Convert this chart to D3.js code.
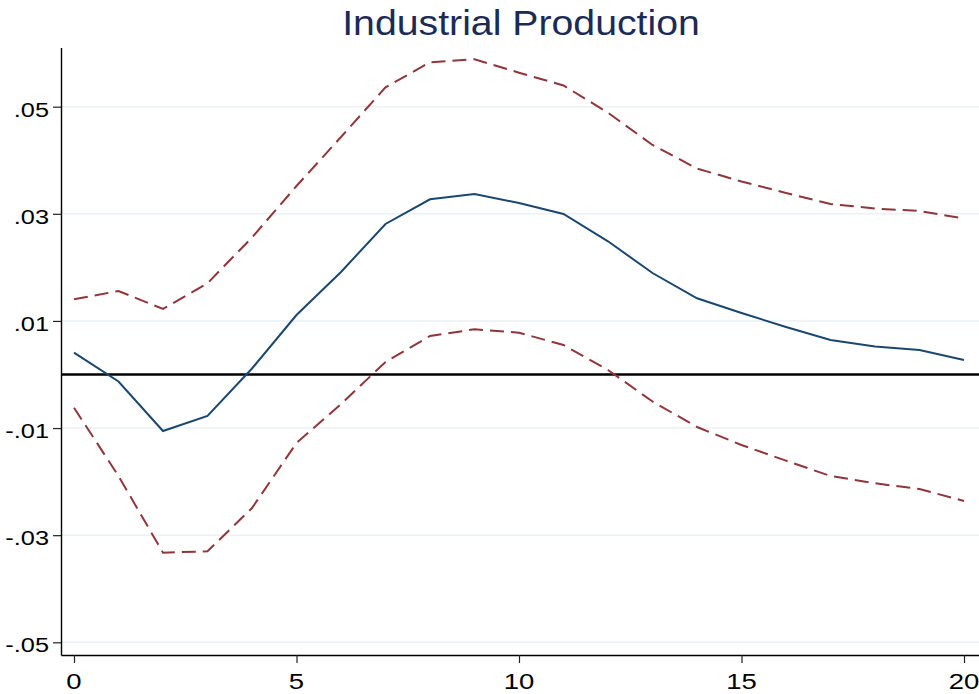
<!DOCTYPE html>
<html>
<head>
<meta charset="utf-8">
<script src="https://cdn.jsdelivr.net/npm/d3@7"></script>
<style>
  html, body { margin: 0; padding: 0; background: #fff; }
  svg { display: block; }
  text { font-family: Arial, "Liberation Sans", Helvetica, sans-serif; }
</style>
</head>
<body>
<svg id="chart" width="979" height="694"></svg>
<script>
// ---- data ----
const horizons = d3.range(0, 21);
const irf = [0.00407, -0.00131, -0.01055, -0.00775, 0.00112, 0.01111, 0.01914, 0.02810, 0.03271, 0.03370,
             0.03202, 0.02997, 0.02487, 0.01895, 0.01423, 0.01148, 0.00887, 0.00644, 0.00523, 0.00457, 0.00271];
const upper = [0.01404, 0.01559, 0.01223, 0.01703, 0.02558, 0.03519, 0.04434, 0.05362, 0.05829, 0.05885,
               0.05635, 0.05396, 0.04888, 0.04285, 0.03846, 0.03603, 0.03389, 0.03183, 0.03099, 0.03053, 0.02913];
const lower = [-0.00620, -0.01895, -0.03327, -0.03301, -0.02493, -0.01279, -0.00551, 0.00233, 0.00719, 0.00844,
               0.00780, 0.00551, 0.00084, -0.00504, -0.00980, -0.01316, -0.01609, -0.01895, -0.02031, -0.02138, -0.02362];
const yTicks = [-0.05, -0.03, -0.01, 0.01, 0.03, 0.05];
const yTickLabels = ["-.05", "-.03", "-.01", ".01", ".03", ".05"];
const xTicks = [0, 5, 10, 15, 20];
const title = "Industrial Production";

// ---- layout ----
const svg = d3.select("#chart");
const plotLeft = 61, plotRight = 979, plotTop = 47.5, plotBottom = 655;
const x = d3.scaleLinear().domain([-0.292, 20.337]).range([plotLeft, plotRight]);
const y = d3.scaleLinear().domain([-0.05237, 0.06105]).range([plotBottom, plotTop]);

// gridlines
svg.append("g")
  .selectAll("line")
  .data(yTicks)
  .join("line")
  .attr("x1", plotLeft + 1).attr("x2", plotRight)
  .attr("y1", d => y(d)).attr("y2", d => y(d))
  .attr("stroke", "#eaf2f3").attr("stroke-width", 1.6);

// zero line
svg.append("line")
  .attr("x1", plotLeft + 1).attr("x2", plotRight)
  .attr("y1", y(0)).attr("y2", y(0))
  .attr("stroke", "#000").attr("stroke-width", 2.4);

const line = d3.line().x((d, i) => x(horizons[i])).y(d => y(d));

// confidence bands
[upper, lower].forEach(s => {
  svg.append("path")
    .datum(s)
    .attr("d", line)
    .attr("fill", "none")
    .attr("stroke", "#90353b")
    .attr("stroke-width", 2)
    .attr("stroke-dasharray", "14,7");
});

// irf
svg.append("path")
  .datum(irf)
  .attr("d", line)
  .attr("fill", "none")
  .attr("stroke", "#1a476f")
  .attr("stroke-width", 2);

// y axis
const yAxis = svg.append("g")
  .attr("transform", `translate(${plotLeft},0)`)
  .call(d3.axisLeft(y).tickValues(yTicks).tickSizeInner(8).tickSizeOuter(0).tickFormat(""));
yAxis.select(".domain").attr("stroke", "#000").attr("stroke-width", 1.4);
yAxis.selectAll(".tick line").attr("stroke", "#222").attr("stroke-width", 1.2);

svg.append("g")
  .selectAll("text")
  .data(yTicks)
  .join("text")
  .attr("transform", d => `translate(49,${y(d) + 10}) scale(1.3,1)`)
  .attr("text-anchor", "end")
  .attr("font-size", 19.5)
  .attr("fill", "#000")
  .text((d, i) => yTickLabels[i]);

// x axis
const xAxis = svg.append("g")
  .attr("transform", `translate(0,${plotBottom})`)
  .call(d3.axisBottom(x).tickValues(xTicks).tickSizeInner(8).tickSizeOuter(0).tickFormat(""));
xAxis.select(".domain").attr("stroke", "#000").attr("stroke-width", 1.4);
xAxis.selectAll(".tick line").attr("stroke", "#222").attr("stroke-width", 1.2);

svg.append("g")
  .selectAll("text")
  .data(xTicks)
  .join("text")
  .attr("transform", d => `translate(${x(d)},689) scale(1.25,1)`)
  .attr("text-anchor", "middle")
  .attr("font-size", 22)
  .attr("fill", "#000")
  .text(d => d3.format("d")(d));

// title
svg.append("text")
  .attr("transform", `translate(521,35) scale(1.09,1)`)
  .attr("text-anchor", "middle")
  .attr("font-size", 36)
  .attr("fill", "#1c2b56")
  .text(title);
</script>
</body>
</html>
